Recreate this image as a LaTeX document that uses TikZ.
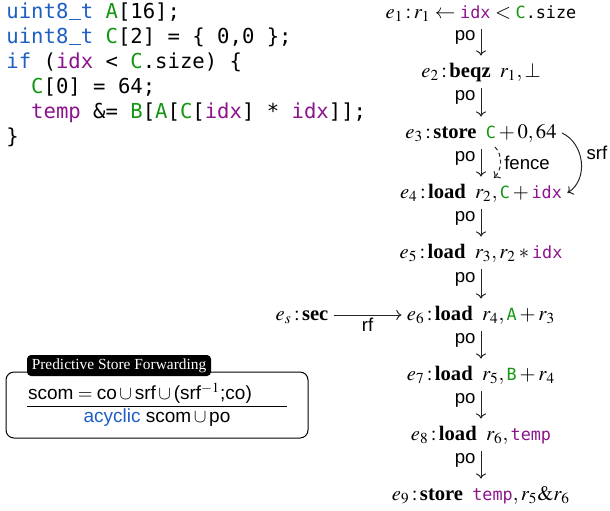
\documentclass[tikz,border=0pt]{standalone}
\usepackage{mathptmx}
\usepackage{fontspec}
\setmainfont{Liberation Serif}
\setsansfont{Liberation Sans}
\setmonofont{DejaVu Sans Mono}
\usetikzlibrary{arrows.meta}
\definecolor{kwblue}{RGB}{30,95,195}
\definecolor{idgreen}{RGB}{20,150,20}
\definecolor{idpurple}{RGB}{140,20,140}
\newcommand\codeblue[1]{\textcolor{kwblue}{#1}}
\newcommand\codegreen[1]{\textcolor{idgreen}{#1}}
\newcommand\codepurple[1]{\textcolor{idpurple}{#1}}
\newcommand\evgreen[1]{\mbox{\fontsize{8.4}{10}\selectfont\ttfamily\textcolor{idgreen}{#1}}}
\newcommand\evpurple[1]{\mbox{\fontsize{8.4}{10}\selectfont\ttfamily\textcolor{idpurple}{#1}}}
\newcommand\evmono[1]{\mbox{\fontsize{8.4}{10}\selectfont\ttfamily #1}}
\newcommand\evc{\,{:}\,}
\newcommand\kwsp{\hspace{0.45em}}
\newcommand\usc{\makebox[0.602em][c]{\rule[-0.1em]{0.58em}{0.075em}}}
\tikzset{
  codeline/.style={anchor=base west, inner sep=0pt, font=\fontsize{10.3}{12}\selectfont\ttfamily},
  ev/.style={font=\fontsize{10.3}{12}\selectfont, text height=8pt, text depth=3pt, inner sep=2.5pt},
  lbl/.style={font=\fontsize{9.3}{11}\selectfont\sffamily},
  conn/.style={draw=black!85, line width=0.5pt, -{To[length=2.6pt,width=5pt]}},
  po/.style={conn},
}
\begin{document}
\begin{tikzpicture}[x=0.5pt,y=-0.5pt]
\useasboundingbox (0,0) rectangle (610,510);
% code
\node[codeline] (c1) at (6,18) {\codeblue{uint8\usc t} \codegreen{A}[16];};
\node[codeline] (c2) at (6,43) {\codeblue{uint8\usc t} \codegreen{C}[2] = \{ 0,0 \};};
\node[codeline] (c3) at (6,68) {\codeblue{if} (\codepurple{idx} < \codegreen{C}.size) \{};
\node[codeline] (c4) at (6,93) {\phantom{xx}\codegreen{C}[0] = 64;};
\node[codeline] (c5) at (6,118) {\phantom{xx}\codepurple{temp} \&= \codegreen{B}[\codegreen{A}[\codegreen{C}[\codepurple{idx}] * \codepurple{idx}]];};
\node[codeline] (c6) at (6,143) {\}};
% events
\node[ev] (e1) at (481,13) {$e_1\evc r_1 \leftarrow \evpurple{idx} < \evgreen{C}\evmono{.size}$};
\node[ev] (e2) at (481,72) {$e_2\evc$\textbf{beqz}\kwsp$r_1,\bot$};
\node[ev] (e3) at (481,133) {$e_3\evc$\textbf{store}\kwsp$\evgreen{C}+0,64$};
\node[ev] (e4) at (481,193) {$e_4\evc$\textbf{load}\kwsp$r_2,\evgreen{C}+\evpurple{idx}$};
\node[ev] (e5) at (481,253) {$e_5\evc$\textbf{load}\kwsp$r_3,r_2*\evpurple{idx}$};
\node[ev] (e6) at (481,315) {$e_6\evc$\textbf{load}\kwsp$r_4,\evgreen{A}+r_3$};
\node[ev] (e7) at (481,375) {$e_7\evc$\textbf{load}\kwsp$r_5,\evgreen{B}+r_4$};
\node[ev] (e8) at (481,435) {$e_8\evc$\textbf{load}\kwsp$r_6,\evpurple{temp}$};
\node[ev] (e9) at (481,495) {$e_9\evc$\textbf{store}\kwsp$\evpurple{temp},r_5\&r_6$};
\node[ev] (es) at (302,315) {$e_s\evc$\textbf{sec}};
% po edges
\foreach \a/\b in {e1/e2,e2/e3,e3/e4,e4/e5,e5/e6,e6/e7,e7/e8,e8/e9}{
  \draw[po] (\a.south) -- (\b.north) node[midway,left,lbl,inner sep=2.5pt,yshift=2.5pt] {po};
}
% rf
\draw[conn] (es.east) -- (e6.west) node[midway,below,lbl,inner sep=1.5pt] {rf};
% srf
\draw[conn] (e3.east) .. controls +(22,10) and +(22,-14) .. (e4.east);
\node[lbl] (srflbl) at (597,153) {srf};
% fence
\coordinate (fs) at (495,147);
\coordinate (fe) at (494,178);
\draw[conn, dash pattern=on 2pt off 1.5pt] (fs) .. controls +(8,8) and +(8,-8) .. (fe);
\node[lbl] (fencelbl) at (527,163) {fence};
% box
\draw[line width=0.5pt, rounded corners=4pt] (6,372) rectangle (308,438);
\node[fill=black, text=white, rounded corners=2pt, minimum width=92pt, minimum height=10.5pt, inner sep=0pt,
      font=\fontsize{7.7}{9}\selectfont] (title) at (119,365.5) {Predictive Store Forwarding};
\node[font=\fontsize{9.5}{11}\selectfont\sffamily, inner sep=0pt] (f1) at (140,393)
  {scom${}={}$co${}\cup{}$srf${}\cup{}$(srf$^{-1}$;co)};
\draw[line width=0.5pt] (27,406) -- (287,406);
\node[font=\fontsize{9.5}{11}\selectfont\sffamily, inner sep=0pt] (f2) at (157,418)
  {\textcolor{kwblue}{acyclic} scom${}\cup{}$po};
\end{tikzpicture}
\end{document}
